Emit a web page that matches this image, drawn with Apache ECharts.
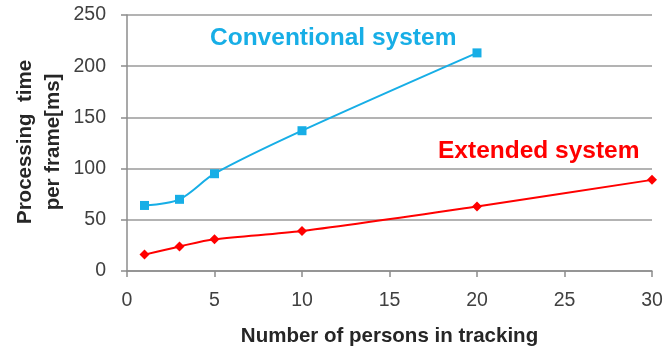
<!DOCTYPE html>
<html>
<head>
<meta charset="utf-8">
<script src="https://cdn.jsdelivr.net/npm/echarts@6/dist/echarts.min.js"></script>
<style>
  html, body { margin: 0; padding: 0; background: #fff; }
  #chart { width: 667px; height: 347px; }
</style>
</head>
<body>
<div id="chart"></div>
<script>
// Number of tracked persons vs. processing time per frame
const personsConventional = [1, 3, 5, 10, 20];
const timeConventional = [64, 70, 95, 137, 213];
const personsExtended = [1, 3, 5, 10, 20, 30];
const timeExtended = [16, 24, 31, 39, 63, 89];

const xTicks = [0, 5, 10, 15, 20, 25, 30];
const yTicks = [0, 50, 100, 150, 200, 250];

const seriesNames = ['Conventional system', 'Extended system'];
const xTitle = 'Number of persons in tracking';
const yTitleLines = ['Processing  time', 'per frame[ms]'];

const pair = (xs, ys) => xs.map((x, i) => [x, ys[i]]);

const font = 'Liberation Sans, Arial, sans-serif';
const blue = '#17AEE6';
const red = '#FF0000';
const titleColor = '#262626';

const chart = echarts.init(document.getElementById('chart'));
chart.setOption({
  animation: false,
  grid: { left: 127, right: 15, top: 15, bottom: 76, outerBoundsMode: 'none', containLabel: false },
  xAxis: {
    type: 'value',
    min: xTicks[0], max: xTicks[xTicks.length - 1], interval: 5,
    name: xTitle, nameLocation: 'middle', nameGap: 55,
    nameTextStyle: { fontFamily: font, fontWeight: 'bold', fontSize: 20.5, color: titleColor },
    axisLine: { lineStyle: { color: '#8c8c8c', width: 1.5 } },
    axisTick: { show: true, length: 6, lineStyle: { color: '#8c8c8c', width: 1.5 } },
    axisLabel: { fontFamily: font, fontSize: 19.5, color: '#404040', margin: 20 },
    splitLine: { show: false }
  },
  yAxis: {
    type: 'value',
    min: yTicks[0], max: yTicks[yTicks.length - 1], interval: 50,
    axisLine: { show: true, lineStyle: { color: '#8c8c8c', width: 1.5 } },
    axisTick: { show: true, length: 6, lineStyle: { color: '#8c8c8c', width: 1.5 } },
    axisLabel: { fontFamily: font, fontSize: 19.5, color: '#404040', margin: 21 },
    splitLine: { show: true, lineStyle: { color: '#9a9a9a', width: 1.5 } }
  },
  series: [
    {
      name: seriesNames[0], type: 'line', smooth: 0.3,
      data: pair(personsConventional, timeConventional),
      symbol: 'rect', symbolSize: 9,
      lineStyle: { color: blue, width: 2 },
      itemStyle: { color: blue }
    },
    {
      name: seriesNames[1], type: 'line', smooth: 0.3,
      data: pair(personsExtended, timeExtended),
      symbol: 'diamond', symbolSize: 10,
      lineStyle: { color: red, width: 2 },
      itemStyle: { color: red }
    }
  ],
  graphic: [
    // two-line vertical axis title
    {
      type: 'text', x: 25, y: 142, rotation: Math.PI / 2,
      style: { text: yTitleLines[0], fill: titleColor, font: 'bold 20.5px ' + font, align: 'center', verticalAlign: 'middle' }
    },
    {
      type: 'text', x: 53, y: 142, rotation: Math.PI / 2,
      style: { text: yTitleLines[1], fill: titleColor, font: 'bold 20.5px ' + font, align: 'center', verticalAlign: 'middle' }
    },
    {
      type: 'text', left: 210, top: 26,
      style: { text: seriesNames[0], fill: blue, font: 'bold 24.5px ' + font }
    },
    {
      type: 'text', left: 438, top: 139,
      style: { text: seriesNames[1], fill: red, font: 'bold 24.5px ' + font }
    }
  ]
});
</script>
</body>
</html>
